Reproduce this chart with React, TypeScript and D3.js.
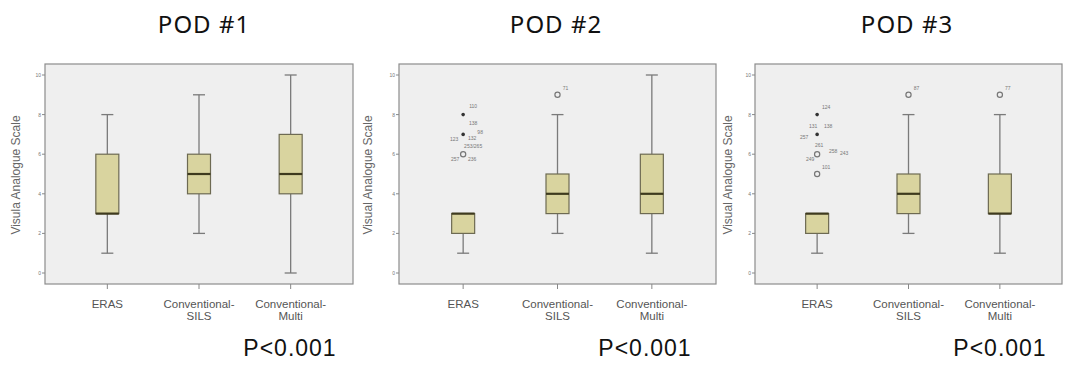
import React from "react";
import * as d3 from "d3";

// ---- data ----
const categories = ["ERAS", "Conventional-SILS", "Conventional-Multi"];
const categoryLines = [["ERAS"], ["Conventional-", "SILS"], ["Conventional-", "Multi"]];
const podTitles = ["POD #1", "POD #2", "POD #3"];
const yAxisTitles = ["Visula Analogue Scale", "Visual Analogue Scale", "Visual Analogue Scale"];
const yTicks = [0, 2, 4, 6, 8, 10];
const pValues = ["P<0.001", "P<0.001", "P<0.001"];

// [min whisker, q1, median, q3, max whisker] per category
const pod1Stats = [
  [1, 3, 3, 6, 8],
  [2, 4, 5, 6, 9],
  [0, 4, 5, 7, 10],
];
const pod2Stats = [
  [1, 2, 3, 3, 3],
  [2, 3, 4, 5, 8],
  [1, 3, 4, 6, 10],
];
const pod3Stats = [
  [1, 2, 3, 3, 3],
  [2, 3, 4, 5, 8],
  [1, 3, 3, 5, 8],
];

// outliers: category, value, extreme (star) or not, case labels
const pod1Outliers: { cat: number; value: number; extreme: boolean; labels: string[] }[] = [];
const pod2Outliers = [
  { cat: 0, value: 8, extreme: true, labels: ["110"] },
  { cat: 0, value: 7, extreme: true, labels: ["138", "123", "132", "98"] },
  { cat: 0, value: 6, extreme: false, labels: ["253/265", "257", "236"] },
  { cat: 1, value: 9, extreme: false, labels: ["71"] },
];
const pod3Outliers = [
  { cat: 0, value: 8, extreme: true, labels: ["124"] },
  { cat: 0, value: 7, extreme: true, labels: ["131", "138", "257"] },
  { cat: 0, value: 6, extreme: false, labels: ["261", "258", "243", "249"] },
  { cat: 0, value: 5, extreme: false, labels: ["101"] },
  { cat: 1, value: 9, extreme: false, labels: ["87"] },
  { cat: 2, value: 9, extreme: false, labels: ["77"] },
];

const allStats = [pod1Stats, pod2Stats, pod3Stats];
const allOutliers = [pod1Outliers, pod2Outliers, pod3Outliers];

// ---- layout ----
const W = 1067;
const H = 365;
const frames = [
  { left: 45, right: 353, ylab: 20, titleX: 204, pX: 290 },
  { left: 399, right: 716, ylab: 372, titleX: 556, pX: 645 },
  { left: 755, right: 1062, ylab: 732, titleX: 907, pX: 1000 },
];
const frameTop = 64;
const frameBottom = 284;
const boxW = 23;

// label offsets for outlier annotations (by panel/outlier/label)
const labelOffsets: Record<string, [number, number][]> = {
  "1-0": [[10, -7]],
  "1-1": [[10, -9], [-9, 7], [9, 6], [17, 0]],
  "1-2": [[10, -6], [-8, 7], [9, 7]],
  "1-3": [[8, -5]],
  "2-0": [[9, -6]],
  "2-1": [[-4, -6], [11, -6], [-13, 5]],
  "2-2": [[2, -7], [16, -1], [27, 1], [-7, 7]],
  "2-3": [[9, -5]],
  "2-4": [[8, -5]],
  "2-5": [[8, -5]],
};

const boxFill = "#d9d49f";
const boxStroke = "#6d6a52";
const medianColor = "#3e3a1e";
const lineColor = "#7a7a7a";

function Panel({ idx }: { idx: number }) {
  const f = frames[idx];
  const stats = allStats[idx];
  const outliers = allOutliers[idx];
  const y = d3.scaleLinear().domain([0, 10]).range([273, 75]);
  const x = d3.scalePoint<string>().domain(categories).range([f.left, f.right]).padding(0.68);
  return (
    <g>
      <text x={f.titleX} y={33} textAnchor="middle" fontFamily="Noto Sans, Arial, sans-serif" fontSize={24} letterSpacing={1} fill="#111">
        {podTitles[idx]}
      </text>
      <rect x={f.left} y={frameTop} width={f.right - f.left} height={frameBottom - frameTop} fill="#efefef" stroke="#8c8c8c" strokeWidth={1.2} />
      {yTicks.map((t) => (
        <g key={t}>
          <line x1={f.left - 3} x2={f.left} y1={y(t)} y2={y(t)} stroke="#888" strokeWidth={1} />
          <text x={f.left - 4} y={y(t) + 2} textAnchor="end" fontSize={5} fill="#777" fontFamily="Arial, sans-serif">
            {t}
          </text>
        </g>
      ))}
      <text
        transform={`translate(${f.ylab},${175}) rotate(-90)`}
        textAnchor="middle"
        fontSize={12}
        fill="#666"
        fontFamily="Liberation Sans, Arial, sans-serif"
      >
        {yAxisTitles[idx]}
      </text>
      {categories.map((c, i) => {
        const cx = x(c)!;
        const [mn, q1, md, q3, mx] = stats[i];
        return (
          <g key={c}>
            <line x1={cx} x2={cx} y1={frameBottom} y2={frameBottom + 5} stroke="#888" />
            {categoryLines[i].map((ln, j) => (
              <text key={j} x={cx} y={308 + j * 12} textAnchor="middle" fontSize={11.5} fill="#555" fontFamily="Liberation Sans, Arial, sans-serif">
                {ln}
              </text>
            ))}
            <line x1={cx} x2={cx} y1={y(mx)} y2={y(q3)} stroke={lineColor} strokeWidth={1.3} />
            <line x1={cx} x2={cx} y1={y(q1)} y2={y(mn)} stroke={lineColor} strokeWidth={1.3} />
            {mx > q3 && <line x1={cx - 6} x2={cx + 6} y1={y(mx)} y2={y(mx)} stroke={lineColor} strokeWidth={1.3} />}
            {mn < q1 && <line x1={cx - 6} x2={cx + 6} y1={y(mn)} y2={y(mn)} stroke={lineColor} strokeWidth={1.3} />}
            <rect x={cx - boxW / 2} y={y(q3)} width={boxW} height={y(q1) - y(q3)} fill={boxFill} stroke={boxStroke} strokeWidth={1.2} />
            <line x1={cx - boxW / 2} x2={cx + boxW / 2} y1={y(md)} y2={y(md)} stroke={medianColor} strokeWidth={2.2} />
          </g>
        );
      })}
      {outliers.map((o, k) => {
        const cx = x(categories[o.cat])!;
        const cy = y(o.value);
        const offs = labelOffsets[`${idx}-${k}`] || [];
        return (
          <g key={k}>
            {o.extreme ? (
              <circle cx={cx} cy={cy} r={1.8} fill="#333" />
            ) : (
              <circle cx={cx} cy={cy} r={2.6} fill="none" stroke="#777" strokeWidth={1.2} />
            )}
            {o.labels.map((l, j) => {
              const [dx, dy] = offs[j] || [8, -5];
              return (
                <text key={j} x={cx + dx} y={cy + dy} textAnchor="middle" fontSize={5} fill="#777" fontFamily="Arial, sans-serif">
                  {l}
                </text>
              );
            })}
          </g>
        );
      })}
      <text x={f.pX} y={356} textAnchor="middle" fontFamily="Liberation Sans, Arial, sans-serif" fontSize={23} letterSpacing={1} fill="#111">
        {pValues[idx]}
      </text>
    </g>
  );
}

export default function App() {
  return (
    <svg width={W} height={H} style={{ position: "absolute", left: 0, top: 0, background: "#fff" }}>
      {[0, 1, 2].map((i) => (
        <Panel key={i} idx={i} />
      ))}
    </svg>
  );
}
